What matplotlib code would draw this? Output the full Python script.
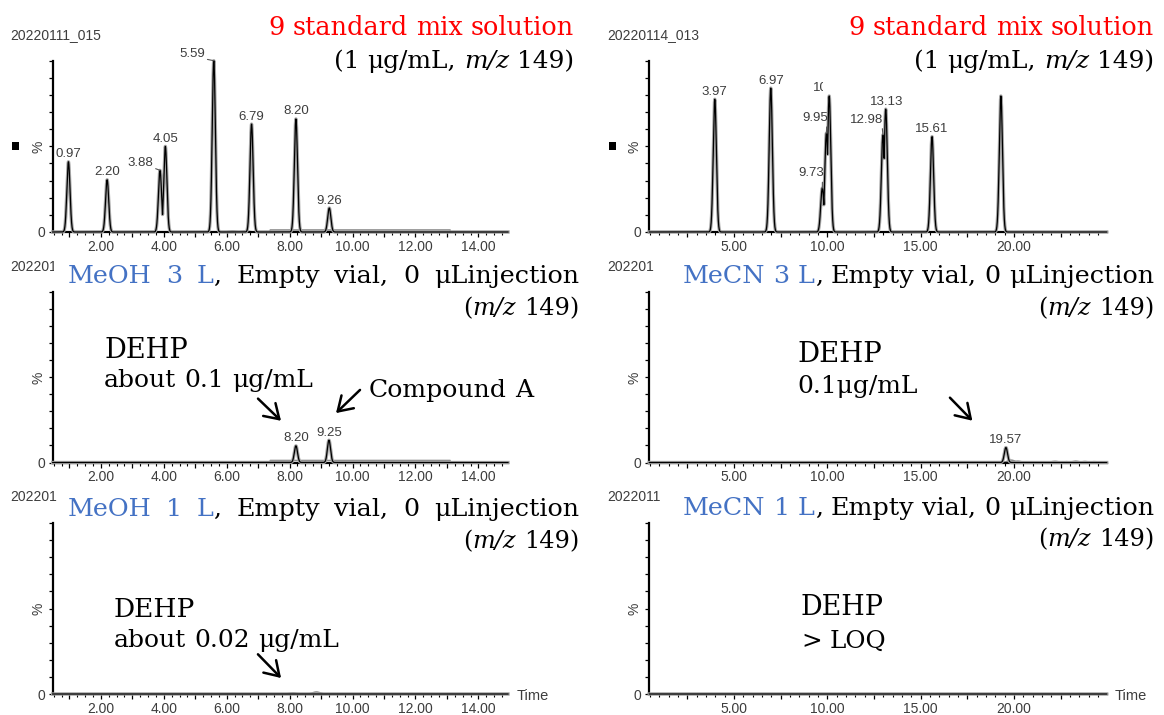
import numpy as np
import matplotlib
matplotlib.use("Agg")
import matplotlib.pyplot as plt
from matplotlib.patches import Rectangle, FancyArrowPatch
from matplotlib.transforms import Bbox
from matplotlib.ticker import MultipleLocator, FixedLocator, FixedFormatter

W, H = 1164, 715
SANS = "Liberation Sans"
SERIF = "DejaVu Serif"
INK = "#3d3d3d"
BLUE = "#4472C4"
RED = "#FF0000"

# ---- peak tables: retention time (min) and relative intensity (%) ----
std_meoh_rt = [0.97, 2.20, 3.88, 4.05, 5.59, 6.79, 8.20, 9.26]
std_meoh_int = [41.0, 30.5, 36.0, 50.0, 100.0, 63.0, 66.0, 14.0]
std_mecn_rt = [3.97, 6.97, 9.73, 9.95, 10.10, 12.98, 13.13, 15.61, 19.30]
std_mecn_int = [77.5, 84.0, 25.6, 57.7, 79.4, 56.7, 71.7, 55.7, 79.4]
blank3_meoh_rt = [8.20, 9.25]
blank3_meoh_int = [9.8, 13.1]
blank3_mecn_rt = [19.57]
blank3_mecn_int = [8.8]
blank1_meoh_rt = []
blank1_meoh_int = []
blank1_mecn_rt = []
blank1_mecn_int = []

# ---- low-level baseline features ----
std_meoh_plateau = (7.38, 13.10, 1.2)          # start, end, level %
std_meoh_humps_rt = [6.18, 6.60, 7.55, 7.75]
std_meoh_humps_int = [0.6, 0.6, 0.9, 0.9]
blank3_meoh_plateau = (7.38, 13.10, 1.2)
blank3_mecn_humps_rt = [19.85, 20.20, 22.20, 22.80, 23.30, 23.80, 24.30]
blank3_mecn_humps_int = [1.4, 0.8, 0.7, 0.5, 0.8, 0.6, 0.5]
blank1_meoh_humps_rt = [8.10, 8.85]
blank1_meoh_humps_int = [0.6, 1.2]

# ---- axis ticks ----
meoh_time_labels = ["2.00", "4.00", "6.00", "8.00", "10.00", "12.00", "14.00"]
mecn_time_labels = ["5.00", "10.00", "15.00", "20.00"]

fig = plt.figure(figsize=(W / 100, H / 100), dpi=100)

LEFT_X = (52.7, 508.0)
RIGHT_X = (649.3, 1106.7)
ROWS = [(60.7, 232.0), (292.3, 462.5), (523.0, 694.0)]
LEFT_LIM = (0.47, 14.94)
RIGHT_LIM = (0.46, 24.97)


def make_axes(xpx, row):
    l = xpx[0] / W
    w = (xpx[1] - xpx[0]) / W
    b = 1 - row[1] / H
    h = (row[1] - row[0]) / H
    ax = fig.add_axes([l, b, w, h])
    for s in ("top", "right"):
        ax.spines[s].set_visible(False)
    for s in ("left", "bottom"):
        ax.spines[s].set_linewidth(1.6)
        ax.spines[s].set_color("black")
    ax.set_ylim(0, 100)
    ax.set_yticks(np.arange(0, 101, 10))
    ylabels = [""] * 11
    ylabels[0] = "0"
    ylabels[5] = "%"
    ax.set_yticklabels(ylabels)
    ax.get_yticklabels()[5].set_rotation(90)
    ax.get_yticklabels()[5].set_fontsize(8)
    ax.tick_params(axis="y", length=3, width=0.9, pad=2.5, labelsize=10,
                   labelcolor=INK, labelfontfamily=SANS)
    ax.tick_params(axis="x", which="major", length=3.6, width=0.9, pad=2,
                   labelsize=10, labelcolor=INK, labelfontfamily=SANS)
    ax.tick_params(axis="x", which="minor", length=2.2, width=0.8)
    ax.patch.set_visible(False)
    return ax


def set_time_axis(ax, lim, major, label_vals, label_txt, minor):
    ax.set_xlim(*lim)
    majors = np.arange(major, lim[1], major)
    ax.xaxis.set_major_locator(FixedLocator(majors))
    txt = []
    for m in majors:
        hit = [t for v, t in zip(label_vals, label_txt) if abs(v - m) < 1e-6]
        txt.append(hit[0] if hit else "")
    ax.xaxis.set_major_formatter(FixedFormatter(txt))
    ax.xaxis.set_minor_locator(MultipleLocator(minor))


def draw_trace(ax, lim, rts, ints, sigma, plateau=None, humps_rt=(), humps_int=()):
    t = np.linspace(lim[0], lim[1], 9000)
    y = np.zeros_like(t)
    for r, h in zip(rts, ints):
        y = np.maximum(y, h * np.exp(-0.5 * ((t - r) / sigma) ** 2))
    base = np.zeros_like(t)
    if plateau is not None:
        base = np.where((t >= plateau[0]) & (t <= plateau[1]), plateau[2], 0.0)
    for r, h in zip(humps_rt, humps_int):
        base = np.maximum(base, h * np.exp(-0.5 * ((t - r) / (2.2 * sigma)) ** 2))
    ax.plot(t, base, color="#8c8c8c", lw=1.1, clip_on=False, zorder=2)
    ax.plot(t, y, color="#a6a6a6", lw=2.4, clip_on=False, zorder=3,
            solid_joinstyle="round")
    ax.plot(t, y, color="black", lw=0.9, clip_on=False, zorder=4)


def label_peaks(ax, rts, ints, offsets, skip=(), clipped=None):
    for r, h in zip(rts, ints):
        if r in skip:
            continue
        dx, dy, leader = offsets.get(r, (0, 7.5, False))
        kw = dict(xy=(r, h), xytext=(dx, dy), textcoords="offset pixels",
                  ha="center", va="center", fontsize=9.5, family=SANS,
                  color=INK, annotation_clip=False, zorder=6)
        if leader:
            kw["arrowprops"] = dict(arrowstyle="-", color="#555555", lw=0.8,
                                    shrinkA=0, shrinkB=0, relpos=(0.95, 0.15))
        a = ax.annotate(f"{r:.2f}", **kw)
        if clipped is not None and r == clipped[0]:
            a.set_clip_box(Bbox.from_extents(0, 0, clipped[1], H))
            a.set_clip_on(True)


# ---------------- panels ----------------
sig_l, sig_r = 0.05, 0.085

ax1 = make_axes(LEFT_X, ROWS[0])
set_time_axis(ax1, LEFT_LIM, 1.0, [2, 4, 6, 8, 10, 12, 14], meoh_time_labels, 0.25)
draw_trace(ax1, LEFT_LIM, std_meoh_rt, std_meoh_int, sig_l, std_meoh_plateau,
           std_meoh_humps_rt, std_meoh_humps_int)
label_peaks(ax1, std_meoh_rt, std_meoh_int,
            {3.88: (-20, 7.4, True), 5.59: (-22, 6.3, True)})

ax2 = make_axes(RIGHT_X, ROWS[0])
set_time_axis(ax2, RIGHT_LIM, 2.5, [5, 10, 15, 20], mecn_time_labels, 0.5)
draw_trace(ax2, RIGHT_LIM, std_mecn_rt, std_mecn_int, sig_r)
label_peaks(ax2, std_mecn_rt, std_mecn_int,
            {9.73: (-11.4, 14.7, True), 9.95: (-11.2, 15, True),
             12.98: (-16, 15, True), 13.13: (1, 7.5, False)},
            skip=(19.30,), clipped=(10.10, 823))

ax3 = make_axes(LEFT_X, ROWS[1])
set_time_axis(ax3, LEFT_LIM, 1.0, [2, 4, 6, 8, 10, 12, 14], meoh_time_labels, 0.25)
draw_trace(ax3, LEFT_LIM, blank3_meoh_rt, blank3_meoh_int, sig_l, blank3_meoh_plateau)
label_peaks(ax3, blank3_meoh_rt, blank3_meoh_int, {})

ax4 = make_axes(RIGHT_X, ROWS[1])
set_time_axis(ax4, RIGHT_LIM, 2.5, [5, 10, 15, 20], mecn_time_labels, 0.5)
draw_trace(ax4, RIGHT_LIM, blank3_mecn_rt, blank3_mecn_int, sig_r, None,
           blank3_mecn_humps_rt, blank3_mecn_humps_int)
label_peaks(ax4, blank3_mecn_rt, blank3_mecn_int, {})

ax5 = make_axes(LEFT_X, ROWS[2])
set_time_axis(ax5, LEFT_LIM, 1.0, [2, 4, 6, 8, 10, 12, 14], meoh_time_labels, 0.25)
draw_trace(ax5, LEFT_LIM, blank1_meoh_rt, blank1_meoh_int, sig_l, None,
           blank1_meoh_humps_rt, blank1_meoh_humps_int)

ax6 = make_axes(RIGHT_X, ROWS[2])
set_time_axis(ax6, RIGHT_LIM, 2.5, [5, 10, 15, 20], mecn_time_labels, 0.5)
draw_trace(ax6, RIGHT_LIM, blank1_mecn_rt, blank1_mecn_int, sig_r)


# ---------------- figure-level text ----------------
def fx(x):
    return x / W


def fy(y):
    return 1 - y / H


def sans(x, y, s, clip_x=None, size=10):
    t = fig.text(fx(x), fy(y), s, family=SANS, fontsize=size, color=INK,
                 ha="left", va="center")
    if clip_x is not None:
        t.set_clip_box(Bbox.from_extents(0, 0, clip_x, H))
        t.set_clip_on(True)
    return t


# data-file names; the lower ones are partly hidden behind the panel titles
sans(10.5, 35, "20220111_015")
sans(607.5, 35, "20220114_013")
sans(10.5, 266.7, "202201", clip_x=53.5)
sans(10.5, 496.7, "202201")
sans(607.5, 266.7, "202201")
sans(607.5, 496.7, "2022011")
sans(517, 696, "Time", size=10.5)
sans(1115, 696, "Time", size=10.5)

for cx in (15, 612):
    fig.add_artist(Rectangle((fx(cx - 3.5), fy(146 + 3.5)), 7 / W, 7 / H,
                             transform=fig.transFigure, color="black", lw=0))

fig.canvas.draw()
R = fig.canvas.get_renderer()
_probe = fig.text(0, 0, "", family=SERIF)


def measure(s, size, style="normal"):
    _probe.set_text(s)
    _probe.set_fontsize(size)
    _probe.set_fontstyle(style)
    return _probe.get_window_extent(R).width


def layout(words, size):
    widths = [[measure(t, size, st) for (t, c, st) in w] for w in words]
    space = measure("a a", size) - measure("aa", size)
    return widths, space


def fit(words, width, base=20.0):
    widths, space = layout(words, base)
    total = sum(sum(w) for w in widths) + space * (len(words) - 1)
    return base * width / total


def draw_line(words, y_base, size, x_left=None, x_right=None, span=None):
    widths, space = layout(words, size)
    wsum = [sum(w) for w in widths]
    if span is not None:
        x_left = span[0]
        gap = (span[1] - span[0] - sum(wsum)) / max(len(words) - 1, 1)
    else:
        gap = space
        if x_left is None:
            x_left = x_right - (sum(wsum) + gap * (len(words) - 1))
    x = x_left
    for w, ws in zip(words, widths):
        for (t, c, st), pw in zip(w, ws):
            fig.text(fx(x), fy(y_base), t, family=SERIF, fontsize=size,
                     style=st, color=c, ha="left", va="baseline")
            x += pw
        x += gap


def plain(s, color="black"):
    return [[(w, color, "normal")] for w in s.split(" ")]


N = "normal"
I = "italic"
K = "black"

std_title = plain("9 standard mix solution", RED)
std_sub = [[("(1", K, N)], [("μg/mL,", K, N)], [("m/z", K, I)], [("149)", K, N)]]
mz_sub = [[("(", K, N), ("m/z", K, I)], [("149)", K, N)]]


def blank_title(solvent, litres):
    return [[(solvent, BLUE, N)], [(litres, BLUE, N)], [("L", BLUE, N), (",", K, N)],
            [("Empty", K, N)], [("vial,", K, N)], [("0", K, N)], [("μLinjection", K, N)]]


for xr in (574, 1154):
    draw_line(std_title, 35, fit(std_title, 305), x_right=xr)
    draw_line(std_sub, 68, fit(std_sub, 240), x_right=xr)

s_blank = fit(blank_title("MeCN", "3"), 471)
draw_line(blank_title("MeCN", "3"), 283, s_blank, x_right=1154)
draw_line(blank_title("MeCN", "1"), 515, s_blank, x_right=1154)
draw_line(blank_title("MeOH", "3"), 283, s_blank, span=(67.5, 579))
draw_line(blank_title("MeOH", "1"), 516, s_blank, span=(67.5, 579))
s_mz = fit(mz_sub, 116)
for xr, yb in ((579, 315), (1154, 315), (579, 548), (1154, 546)):
    draw_line(mz_sub, yb, s_mz, x_right=xr)

notes = [
    ("DEHP", 104, 358, 83.5),
    ("about 0.1 μg/mL", 104, 386.7, 209),
    ("Compound A", 369, 396.7, 163.5),
    ("DEHP", 114, 616.7, 81),
    ("about 0.02 μg/mL", 114, 646.7, 225),
    ("DEHP", 797.5, 361.7, 84.5),
    ("0.1μg/mL", 797.5, 393, 121),
    ("DEHP", 801, 615, 83),
    ("> LOQ", 801, 648, 85),
]
for s, x, yb, wd in notes:
    words = plain(s)
    draw_line(words, yb, fit(words, wd), x_left=x)

_probe.remove()


def arrow(p0, p1):
    a = FancyArrowPatch((fx(p0[0]), fy(p0[1])), (fx(p1[0]), fy(p1[1])),
                        transform=fig.transFigure,
                        arrowstyle="->,head_length=0.5,head_width=0.32",
                        mutation_scale=20, lw=1.8, color="black")
    fig.add_artist(a)


arrow((256, 396.7), (283, 422.7))
arrow((362, 388), (334, 415))
arrow((256, 652.3), (283, 680))
arrow((948, 395.7), (974.3, 422.7))

fig.savefig("out.png", dpi=100)
